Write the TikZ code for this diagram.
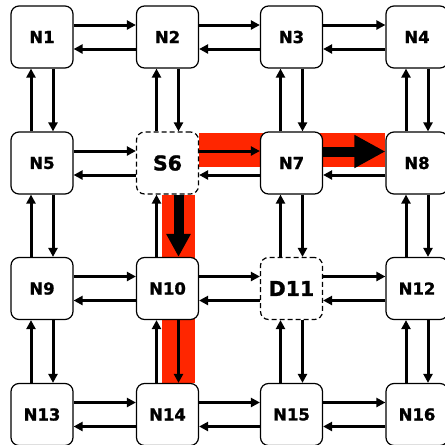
\documentclass[tikz,border=0pt]{standalone}
\usepackage{fontspec}
\setmainfont{DejaVu Sans}[BoldFeatures={FakeBold=1.2}]
\usetikzlibrary{arrows.meta,backgrounds}
\definecolor{pathred}{RGB}{255,38,0}
\tikzset{
  router/.style={draw=black, line width=1.2pt, fill=white, rounded corners=8pt,
    minimum width=62pt, minimum height=62pt, inner sep=0pt,
    font=\fontsize{16.5}{16.5}\selectfont\bfseries},
  special/.style={router, dashed, dash pattern=on 5pt off 3pt,
    font=\fontsize{20.5}{20.5}\selectfont\bfseries},
  link/.style={line width=3pt, -{Triangle[length=9pt,width=9pt]}},
  biglinkh/.style={line width=10pt, -{Triangle[length=31pt,width=31pt]}},
  biglinkv/.style={line width=10pt, -{Triangle[length=23pt,width=23pt]}},
  band/.style={fill=pathred}
}
\begin{document}
\begin{tikzpicture}[x=1pt,y=-1pt]
\useasboundingbox (0,0) rectangle (445,445);

% 4x4 grid of routers
\node[router]  (N1)  at (42,37)      {N1};
\node[router]  (N2)  at (167.5,37)   {N2};
\node[router]  (N3)  at (291.5,37)   {N3};
\node[router]  (N4)  at (417,37)     {N4};
\node[router]  (N5)  at (42,163)     {N5};
\node[special] (S6)  at (167.5,163)  {S6};
\node[router]  (N7)  at (291.5,163)  {N7};
\node[router]  (N8)  at (417,163)    {N8};
\node[router]  (N9)  at (42,288.5)   {N9};
\node[router]  (N10) at (167.5,288.5){N10};
\node[special] (D11) at (291.5,288.5){D11};
\node[router]  (N12) at (417,288.5)  {N12};
\node[router]  (N13) at (42,414.5)   {N13};
\node[router]  (N14) at (167.5,414.5){N14};
\node[router]  (N15) at (291.5,414.5){N15};
\node[router]  (N16) at (417,414.5)  {N16};

% highlighted route behind the routers
\begin{pgfonlayer}{background}
  \fill[band] ([yshift=29.7pt]S6.east) rectangle ([yshift=-3.7pt]N8.west);
  \fill[band] ([xshift=-5.5pt]S6.south) rectangle ([xshift=27.5pt]N14.north);
\end{pgfonlayer}

% horizontal link pairs: upper goes right, lower goes left
\foreach \a/\b in {N1/N2,N2/N3,N3/N4,N5/S6,S6/N7,N9/N10,N10/D11,D11/N12,
                   N13/N14,N14/N15,N15/N16}{
  \draw[link] ([yshift=12pt]\a.east) -- ([yshift=12pt]\b.west);
  \draw[link] ([yshift=-12pt]\b.west) -- ([yshift=-12pt]\a.east);
}
\draw[link] ([yshift=-12pt]N8.west) -- ([yshift=-12pt]N7.east);
\draw[biglinkh] ([yshift=11.5pt]N7.east) -- ([yshift=11.5pt]N8.west);

% vertical link pairs: left goes up, right goes down
\foreach \a/\b in {N1/N5,N2/S6,N3/N7,N4/N8,N5/N9,N7/D11,N8/N12,
                   N9/N13,N10/N14,D11/N15,N12/N16}{
  \draw[link] ([xshift=-11pt]\b.north) -- ([xshift=-11pt]\a.south);
  \draw[link] ([xshift=11pt]\a.south) -- ([xshift=11pt]\b.north);
}
\draw[link] ([xshift=-11pt]N10.north) -- ([xshift=-11pt]S6.south);
\draw[biglinkv] ([xshift=11pt]S6.south) -- ([xshift=11pt]N10.north);
\end{tikzpicture}
\end{document}
